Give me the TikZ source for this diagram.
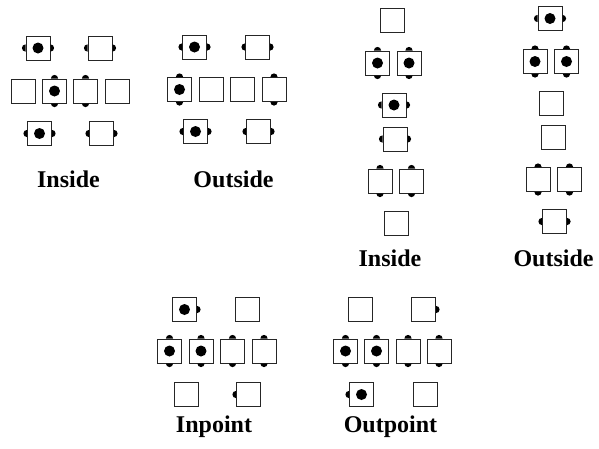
\documentclass[tikz,border=0pt]{standalone}
\usepackage{fontspec}
\setmainfont{Liberation Serif}
\begin{document}
\begin{tikzpicture}[x=1pt,y=-1pt,
  cellbox/.style={draw=black!85, line width=1pt, minimum size=24pt, inner sep=0pt, fill=white},
  dotfill/.style={fill=black},
  lbl/.style={anchor=base, font=\fontsize{24}{28}\selectfont\bfseries, inner sep=0pt}]
\useasboundingbox (0,0) rectangle (599,448);
\newcommand\cbox[3]{\node[cellbox] (#1) at (#2,#3) {};}
\newcommand\dC[1]{\fill[dotfill] (#1) circle[radius=5.5];}
\newcommand\dL[1]{\fill[dotfill] (#1.west) ++(0,3.6) arc[start angle=90,end angle=270,radius=3.6] -- cycle;}
\newcommand\dR[1]{\fill[dotfill] (#1.east) ++(0,3.6) arc[start angle=90,end angle=-90,radius=3.6] -- cycle;}
\newcommand\dT[1]{\fill[dotfill] (#1.north) ++(-3.6,0) arc[start angle=180,end angle=360,radius=3.6] -- cycle;}
\newcommand\dB[1]{\fill[dotfill] (#1.south) ++(-3.6,0) arc[start angle=180,end angle=0,radius=3.6] -- cycle;}

% ---- Group 1: Inside
\cbox{a1}{38}{48} \dC{a1} \dL{a1} \dR{a1}
\cbox{a2}{100}{48} \dL{a2} \dR{a2}
\cbox{a3}{23.5}{91}
\cbox{a4}{54.5}{91} \dC{a4} \dT{a4} \dB{a4}
\cbox{a5}{85.5}{91} \dT{a5} \dB{a5}
\cbox{a6}{117}{91}
\cbox{a7}{39.5}{133.5} \dC{a7} \dL{a7} \dR{a7}
\cbox{a8}{101.5}{133.5} \dL{a8} \dR{a8}
\node[lbl] (la) at (68.5,187) {Inside};

% ---- Group 2: Outside
\cbox{b1}{194.5}{47} \dC{b1} \dL{b1} \dR{b1}
\cbox{b2}{257.5}{47} \dL{b2} \dR{b2}
\cbox{b3}{179.5}{89.5} \dC{b3} \dT{b3} \dB{b3}
\cbox{b4}{211}{89.5}
\cbox{b5}{242.5}{89.5}
\cbox{b6}{274}{89.5} \dT{b6} \dB{b6}
\cbox{b7}{195.5}{131.5} \dC{b7} \dL{b7} \dR{b7}
\cbox{b8}{258.5}{131.5} \dL{b8} \dR{b8}
\node[lbl] (lb) at (233.5,187) {Outside};

% ---- Group 3: Inside (vertical)
\cbox{c1}{392}{20.5}
\cbox{c2}{377.5}{63} \dC{c2} \dT{c2} \dB{c2}
\cbox{c3}{409}{63} \dC{c3} \dT{c3} \dB{c3}
\cbox{c4}{394}{105} \dC{c4} \dL{c4} \dR{c4}
\cbox{c5}{395}{139} \dL{c5} \dR{c5}
\cbox{c6}{380}{181} \dT{c6} \dB{c6}
\cbox{c7}{411.5}{181} \dT{c7} \dB{c7}
\cbox{c8}{396.5}{223.5}
\node[lbl] (lc) at (390,266.5) {Inside};

% ---- Group 4: Outside (vertical)
\cbox{d1}{550}{18.5} \dC{d1} \dL{d1} \dR{d1}
\cbox{d2}{535}{61.5} \dC{d2} \dT{d2} \dB{d2}
\cbox{d3}{566.5}{61.5} \dC{d3} \dT{d3} \dB{d3}
\cbox{d4}{551}{103.5}
\cbox{d5}{553}{137}
\cbox{d6}{538}{179.5} \dT{d6} \dB{d6}
\cbox{d7}{569.5}{179.5} \dT{d7} \dB{d7}
\cbox{d8}{554.5}{221.5} \dL{d8} \dR{d8}
\node[lbl] (ld) at (553.5,266.5) {Outside};

% ---- Group 5: Inpoint
\cbox{e1}{184.5}{309.5} \dC{e1} \dR{e1}
\cbox{e2}{247.5}{309.5}
\cbox{e3}{169.5}{351} \dC{e3} \dT{e3} \dB{e3}
\cbox{e4}{201}{351} \dC{e4} \dT{e4} \dB{e4}
\cbox{e5}{232.5}{351} \dT{e5} \dB{e5}
\cbox{e6}{264}{351} \dT{e6} \dB{e6}
\cbox{e7}{186.5}{394.5}
\cbox{e8}{248.5}{394.5} \dL{e8}
\node[lbl] (le) at (214,432) {Inpoint};

% ---- Group 6: Outpoint
\cbox{f1}{360.5}{309.5}
\cbox{f2}{423.5}{309.5} \dR{f2}
\cbox{f3}{345.5}{351} \dC{f3} \dT{f3} \dB{f3}
\cbox{f4}{376.5}{351} \dC{f4} \dT{f4} \dB{f4}
\cbox{f5}{408}{351} \dT{f5} \dB{f5}
\cbox{f6}{439}{351} \dT{f6} \dB{f6}
\cbox{f7}{361.5}{394.5} \dC{f7} \dL{f7}
\cbox{f8}{425}{394.5}
\node[lbl] (lf) at (390.5,432) {Outpoint};
\end{tikzpicture}
\end{document}
